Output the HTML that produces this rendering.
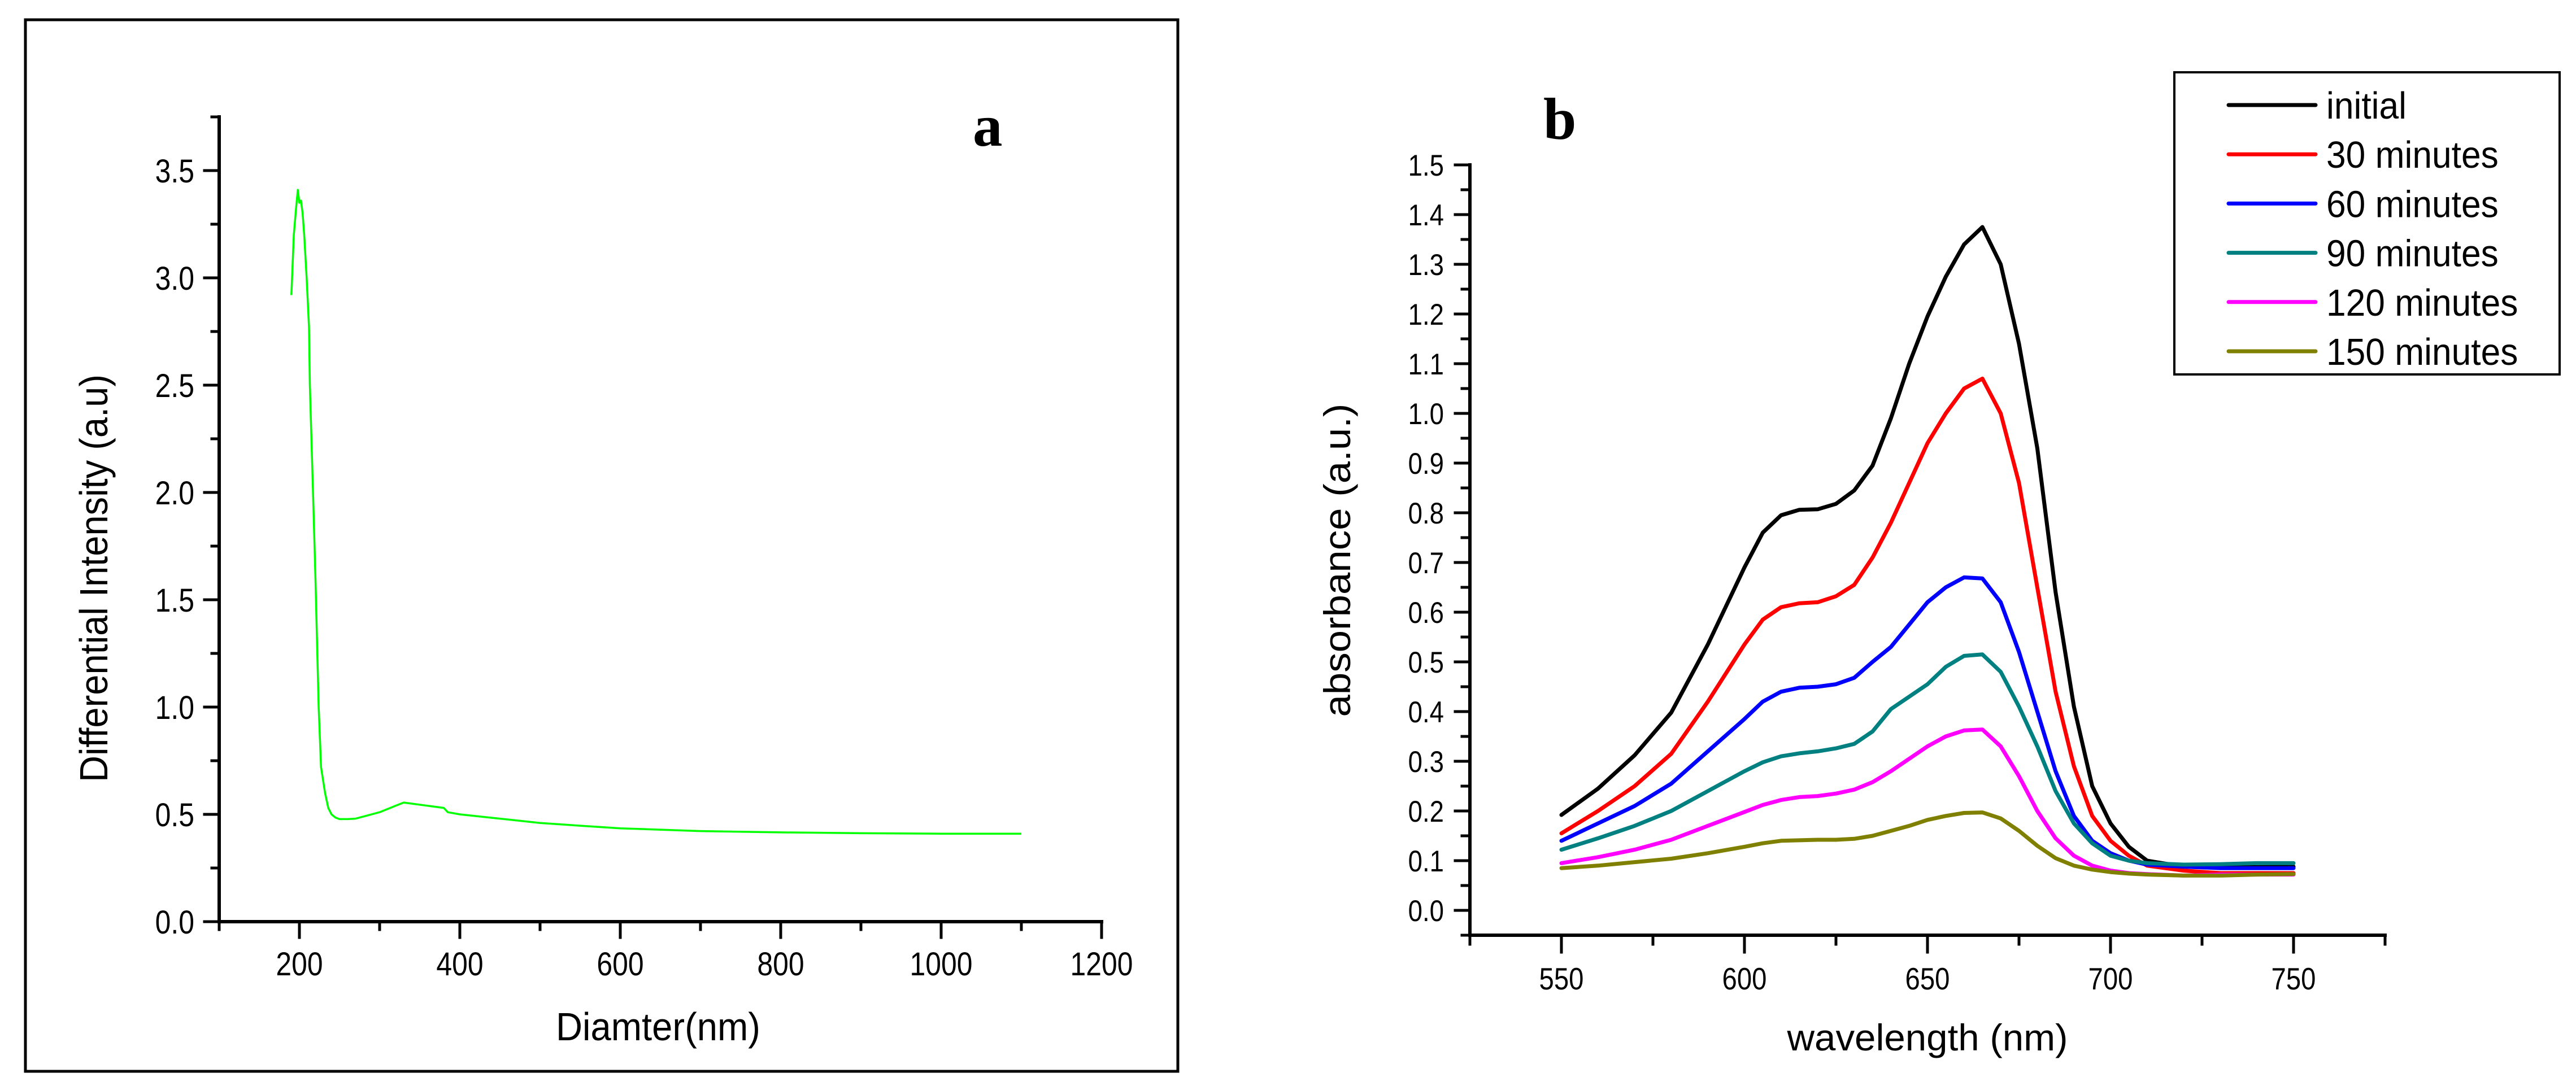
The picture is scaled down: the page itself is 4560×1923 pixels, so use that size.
<!DOCTYPE html>
<html><head><meta charset="utf-8">
<style>
html,body{margin:0;padding:0;background:#fff;}
svg{display:block;}
text{font-family:"Liberation Sans Narrow","Liberation Sans",sans-serif;fill:#000;}
.serif{font-family:"Liberation Serif",serif;font-weight:bold;}
</style></head>
<body>
<svg id="fig" width="4560" height="1923" viewBox="0 0 4560 1923" xmlns="http://www.w3.org/2000/svg">
  <rect x="45" y="35" width="2040" height="1862" fill="none" stroke="#000" stroke-width="5"/>
  <text class="serif" x="1722" y="258" font-size="105">a</text>
  <text class="serif" x="2732" y="246" font-size="105">b</text>
  <g id="ga"></g>
  <g id="gb"></g>
  <rect x="3849" y="128" width="682" height="535" fill="#fff" stroke="#000" stroke-width="4"/>
  <g id="legend"></g>
</svg>
<script>
// ---- Chart A data ----
const diamA = [190,193,196,198,200,202,204,206,209,212,213,217,220,224,227,232,236,240,245,250,260,270,280,300,320,330,340,360,380,385,400,450,500,550,600,700,800,900,1000,1100];
const intensityA = [2.92,3.2,3.33,3.41,3.35,3.36,3.3,3.2,3.0,2.77,2.5,2.0,1.6,1.0,0.72,0.6,0.53,0.5,0.485,0.478,0.478,0.48,0.49,0.51,0.54,0.555,0.55,0.54,0.53,0.51,0.5,0.48,0.46,0.447,0.435,0.422,0.416,0.412,0.41,0.41];
const xTicksA = ["200","400","600","800","1000","1200"];
const yTicksA = ["0.0","0.5","1.0","1.5","2.0","2.5","3.0","3.5"];

// ---- Chart B data ----
const wavelengthB = [550,560,570,580,590,600,605,610,615,620,625,630,635,640,645,650,655,660,665,670,675,680,685,690,695,700,705,710,720,730,740,750];
const initialB = [0.192,0.245,0.312,0.398,0.535,0.690,0.760,0.795,0.806,0.807,0.818,0.845,0.895,0.990,1.100,1.195,1.275,1.340,1.375,1.300,1.140,0.930,0.640,0.410,0.250,0.175,0.128,0.100,0.088,0.087,0.087,0.088];
const min30B = [0.155,0.2,0.25,0.315,0.42,0.535,0.585,0.61,0.618,0.62,0.632,0.655,0.71,0.78,0.86,0.94,1.0,1.05,1.07,1.0,0.86,0.65,0.44,0.29,0.19,0.14,0.11,0.09,0.08,0.075,0.075,0.075];
const min60B = [0.14,0.175,0.21,0.255,0.32,0.385,0.42,0.44,0.448,0.45,0.455,0.468,0.5,0.53,0.575,0.62,0.65,0.67,0.668,0.62,0.52,0.40,0.28,0.19,0.14,0.115,0.1,0.092,0.088,0.085,0.085,0.085];
const min90B = [0.122,0.145,0.17,0.2,0.24,0.28,0.298,0.31,0.316,0.32,0.326,0.335,0.36,0.405,0.43,0.455,0.49,0.512,0.515,0.48,0.41,0.33,0.24,0.175,0.135,0.11,0.1,0.095,0.092,0.093,0.095,0.095];
const min120B = [0.095,0.107,0.122,0.142,0.17,0.198,0.212,0.222,0.228,0.23,0.235,0.243,0.258,0.28,0.305,0.33,0.35,0.362,0.364,0.33,0.27,0.2,0.145,0.11,0.09,0.08,0.075,0.073,0.07,0.072,0.072,0.072];
const min150B = [0.085,0.09,0.097,0.104,0.115,0.128,0.135,0.14,0.141,0.142,0.142,0.144,0.15,0.16,0.17,0.182,0.19,0.196,0.197,0.185,0.16,0.13,0.105,0.09,0.082,0.077,0.074,0.072,0.07,0.07,0.072,0.073];
const seriesNamesB = ["initial","30 minutes","60 minutes","90 minutes","120 minutes","150 minutes"];
const xTicksB = ["550","600","650","700","750"];
const yTicksB = ["0.0","0.1","0.2","0.3","0.4","0.5","0.6","0.7","0.8","0.9","1.0","1.1","1.2","1.3","1.4","1.5"];

const NS = "http://www.w3.org/2000/svg";
function mk(tag, attrs, parent){
  const e = document.createElementNS(NS, tag);
  for (const k in attrs) e.setAttribute(k, attrs[k]);
  parent.appendChild(e);
  return e;
}
function line(p, x1,y1,x2,y2,w){ return mk('line',{x1:x1,y1:y1,x2:x2,y2:y2,stroke:'#000','stroke-width':w,'stroke-linecap':'square'},p); }
function narrowText(p, x, y, fs, anchor, s){
  return mk('text',{x:0,y:0,'font-size':fs,'text-anchor':anchor,transform:'translate('+x+','+y+') scale(0.86,1)'},p);
}

// ---------- Chart A ----------
const ga = document.getElementById('ga');
const axA = {x0:388, y0:1632, px:1.42, py:380};
const xA = v => axA.x0 + (v-100)*axA.px;
const yA = v => axA.y0 - v*axA.py;
let e;
e = line(ga, xA(100), yA(0), xA(1200), yA(0), 6);
 
e = line(ga, xA(100), yA(0), xA(100), yA(3.75), 6);
 
for (let v=100; v<=1200; v+=100){
  const major = (v%200===0);
  e = line(ga, xA(v), yA(0), xA(v), yA(0)+(major?28:14), 5);
   
}
xTicksA.forEach(s=>{
  const t = narrowText(ga, xA(parseFloat(s)), 1727, 58, 'middle');
  t.textContent = s;
  
  
});
for (let i=0;i<=15;i++){
  const v=i*0.25, major=(i%2===0);
  e = line(ga, xA(100)-(major?26:13), yA(v), xA(100), yA(v), 5);
   
}
yTicksA.forEach(s=>{
  const t = narrowText(ga, 344, yA(parseFloat(s))+21, 58, 'end');
  t.textContent = s;
  
  
});
e = mk('text',{x:1165, y:1842,'font-size':70,'text-anchor':'middle',textLength:362,lengthAdjust:'spacingAndGlyphs'},ga);
e.textContent='Diamter(nm)';
 
e = mk('text',{x:0,y:0,'font-size':70,'text-anchor':'middle',textLength:722,lengthAdjust:'spacingAndGlyphs',transform:'translate(190,1024) rotate(-90)'},ga);
e.textContent='Differential Intensity (a.u)';
 
let dA = diamA.map((d,i)=>(i?'L':'M')+xA(d).toFixed(1)+','+yA(intensityA[i]).toFixed(1)).join(' ');
e = mk('path',{d:dA, fill:'none', stroke:'#00ff00','stroke-width':3.5,'stroke-linejoin':'round'},ga);
 

// ---------- Chart B ----------
const gb = document.getElementById('gb');
const axB = {x0:2602, y0:1612, px:6.48, py:880};
const xB = v => axB.x0 + (v-525)*axB.px;
const yB = v => axB.y0 - v*axB.py;
e = line(gb, xB(525), yB(-0.05), xB(775), yB(-0.05), 6);
 
e = line(gb, xB(525), yB(-0.05), xB(525), yB(1.5), 6);
 
for (let v=525; v<=775; v+=25){
  const major = (v%50===0);
  e = line(gb, xB(v), yB(-0.05), xB(v), yB(-0.05)+(major?30:16), 5);
   
}
xTicksB.forEach(s=>{
  const t = narrowText(gb, xB(parseFloat(s)), 1752, 55, 'middle');
  t.textContent = s;
  
  
});
for (let i=-1;i<=30;i++){
  const v=i*0.05, major=(i%2===0);
  e = line(gb, xB(525)-(major?26:14), yB(v), xB(525), yB(v), 5);
   
}
yTicksB.forEach(s=>{
  const t = narrowText(gb, 2556, yB(parseFloat(s))+19, 53, 'end');
  t.textContent = s;
  
  
});
e = mk('text',{x:3412, y:1860,'font-size':66,'text-anchor':'middle',textLength:497,lengthAdjust:'spacingAndGlyphs'},gb);
e.textContent='wavelength (nm)';
 
e = mk('text',{x:0,y:0,'font-size':66,'text-anchor':'middle',textLength:555,lengthAdjust:'spacingAndGlyphs',transform:'translate(2390,992) rotate(-90)'},gb);
e.textContent='absorbance (a.u.)';
 

const seriesB = [initialB, min30B, min60B, min90B, min120B, min150B];
const colorsB = ['#000000','#ff0000','#0000ff','#008080','#ff00ff','#808000'];
seriesB.forEach((vals,si)=>{
  const d = wavelengthB.map((w,i)=>(i?'L':'M')+xB(w).toFixed(1)+','+yB(vals[i]).toFixed(1)).join(' ');
  const p = mk('path',{d:d, fill:'none', stroke:colorsB[si],'stroke-width':7,'stroke-linejoin':'round','stroke-linecap':'round'},gb);
  
  
});

// Legend
const lg = document.getElementById('legend');
seriesNamesB.forEach((name,i)=>{
  const y = 186 + i*87.2;
  const l = mk('line',{x1:3945,y1:y,x2:4099,y2:y,stroke:colorsB[i],'stroke-width':7,'stroke-linecap':'round'},lg);
  
  
  const t = mk('text',{x:0,y:0,'font-size':67,transform:'translate(4118,'+(y+24)+') scale(0.93,1)'},lg);
  t.textContent = name;
  
  
});
</script>
</body></html>
